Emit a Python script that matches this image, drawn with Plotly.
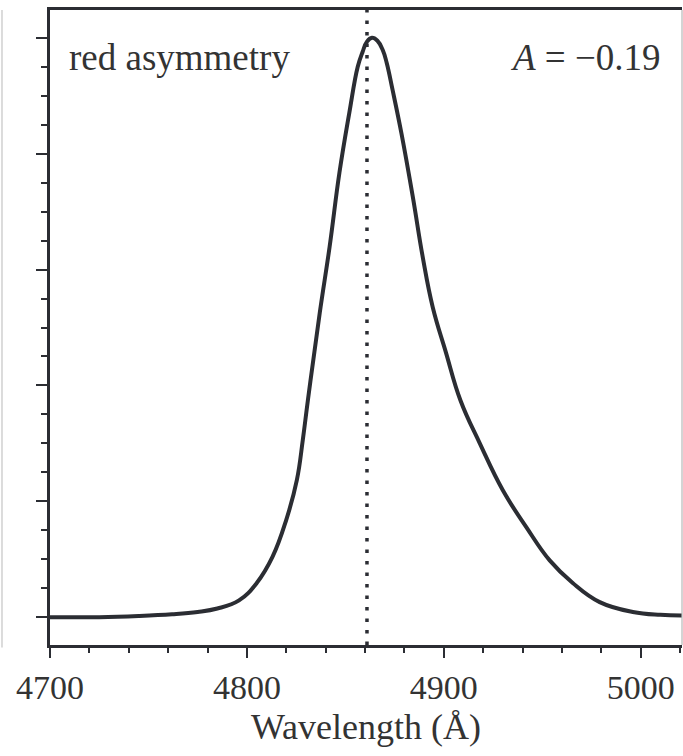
import plotly.graph_objects as go

# Line profile (wavelength in Angstrom, normalised flux)
wavelength = [4700, 4725, 4745, 4762, 4775, 4785, 4796, 4805, 4813, 4820, 4825.4, 4828.4,
              4831, 4837, 4842, 4847, 4852, 4856.3, 4858.8, 4860.9, 4863.5, 4866.3, 4869,
              4871, 4874, 4878.5, 4884.3, 4889.3, 4894.4, 4901, 4908.5, 4918.3, 4930,
              4942, 4953.8, 4965.5, 4979.2, 4996, 5010, 5021]
flux = [0.0, 0.0, 0.002, 0.005, 0.009, 0.015, 0.029, 0.059, 0.104, 0.168, 0.237, 0.306,
        0.375, 0.525, 0.639, 0.767, 0.870, 0.950, 0.976, 0.993, 1.0, 0.995, 0.979,
        0.957, 0.910, 0.835, 0.725, 0.622, 0.535, 0.458, 0.374, 0.300, 0.219,
        0.155, 0.098, 0.059, 0.026, 0.009, 0.004, 0.003]

line_center = 4861
x_ticks = [4700, 4800, 4900, 5000]
x_range = [4700, 5021]
y_range = [-0.048, 1.048]
label_left = "red asymmetry"
label_right = "<i>A</i>\u00a0=\u00a0\u22120.19"
x_title = "Wavelength (Å)"

ink = "#2b2d33"
font_family = "Liberation Serif, Times New Roman, serif"

fig = go.Figure()
fig.add_trace(go.Scatter(x=wavelength, y=flux, mode="lines",
                         line=dict(color=ink, width=4, shape="spline", smoothing=1.2),
                         hoverinfo="skip", showlegend=False))

fig.add_shape(type="line", xref="x", yref="paper", x0=line_center, x1=line_center,
              y0=0, y1=1, line=dict(color=ink, width=3.5, dash="3.5px,8px"))
# light grey frame edges from neighbouring panels
fig.add_shape(type="line", xref="paper", yref="paper", x0=1, x1=1, y0=0, y1=1,
              line=dict(color="#b8b8b8", width=1.2))
fig.add_shape(type="line", xref="paper", yref="paper", x0=-48/632, x1=-48/632, y0=-0.004, y1=1,
              line=dict(color="#c4c4c4", width=1.2))

fig.add_annotation(text=label_left, xref="paper", yref="paper", x=17/632, y=1,
                   xanchor="left", yanchor="middle", yshift=-47, showarrow=False,
                   font=dict(family=font_family, size=37, color="#333"))
fig.add_annotation(text=label_right, xref="paper", yref="paper", x=613/632, y=1,
                   xanchor="right", yanchor="middle", yshift=-47, showarrow=False,
                   font=dict(family=font_family, size=37, color="#333"))
fig.add_annotation(text=x_title, xref="paper", yref="paper", x=0.5, y=0,
                   xanchor="center", yanchor="middle", yshift=-82, showarrow=False,
                   font=dict(family=font_family, size=36, color="#333"))

fig.update_xaxes(range=x_range, tickvals=x_ticks, ticks="outside", ticklen=10, tickwidth=2,
                 tickcolor=ink, showline=True, linecolor=ink, linewidth=2.5, mirror=True,
                 showgrid=False, zeroline=False, ticklabelstandoff=0,
                 tickfont=dict(family=font_family, size=34, color="#333"),
                 minor=dict(dtick=20, tick0=4700, ticks="outside", ticklen=5, tickwidth=2,
                            tickcolor=ink, showgrid=False))
fig.update_yaxes(range=y_range, tickvals=[0, 0.2, 0.4, 0.6, 0.8, 1.0], ticks="outside",
                 ticklen=11, tickwidth=2, tickcolor=ink, showticklabels=False,
                 showline=True, linecolor=ink, linewidth=2.5, mirror=False,
                 showgrid=False, zeroline=False,
                 minor=dict(dtick=0.05, tick0=0, ticks="outside", ticklen=6, tickwidth=2,
                            tickcolor=ink, showgrid=False))

fig.update_layout(width=683, height=756, margin=dict(l=50, r=1, t=10, b=111),
                  paper_bgcolor="white", plot_bgcolor="white")

fig.write_html("out.html", config={"displayModeBar": False},
               post_script="document.body.style.margin='0';")
